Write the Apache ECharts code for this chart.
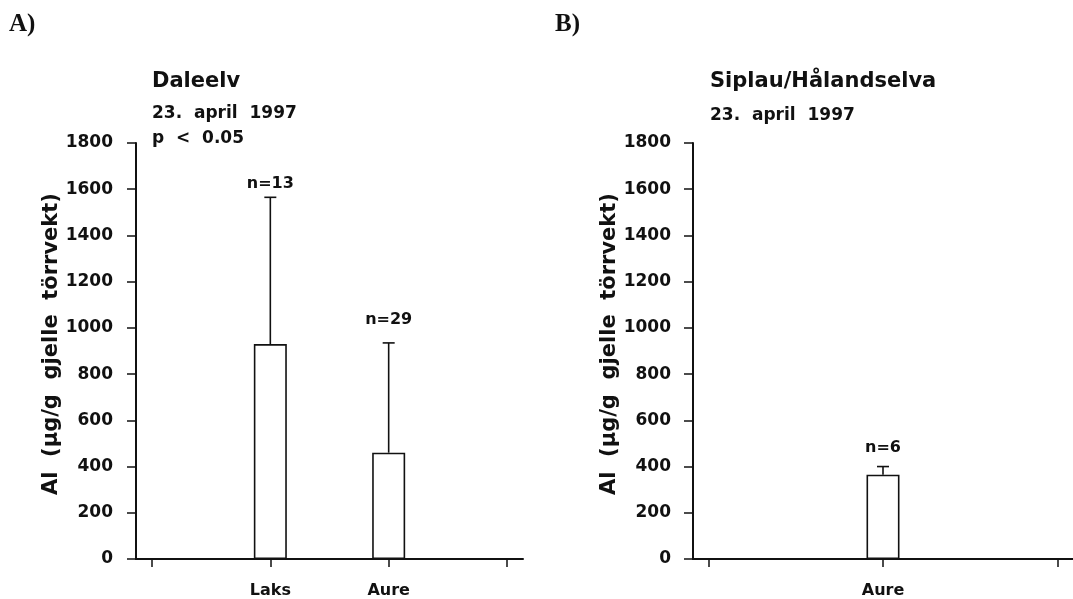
<!DOCTYPE html>
<html>
<head>
<meta charset="utf-8">
<title>Al i gjeller</title>
<script src="https://cdn.jsdelivr.net/npm/echarts@6/dist/echarts.min.js"></script>
<style>
  html, body { margin: 0; padding: 0; background: #fff; }
  #chart { width: 1073px; height: 599px; }
</style>
</head>
<body>
<div id="chart"></div>
<script>
// data
const catsA = ['Laks', 'Aure'];
const meanA = [930, 460];
const errTopA = [1565, 935];
const nA = [13, 29];

const catsB = ['Aure'];
const meanB = [365];
const errTopB = [400];
const nB = [6];

const yTicks = [0, 200, 400, 600, 800, 1000, 1200, 1400, 1600, 1800];
const yName = 'Al  (µg/g  gjelle  törrvekt)';

const FONT = 'DejaVu Sans';
const INK = '#111';

const chart = echarts.init(document.getElementById('chart'));

// category i sits at x = i + 1, ends of the axis are 0 and n + 1
const barData = (means) => means.map((v, i) => [i + 1, v]);
const errData = (means, tops, ns) => means.map((v, i) => [i + 1, v, tops[i], ns[i]]);

// per-item gap between cap and "n=" text (as in the figure)
const nGapA = [13, 23];
const nGapB = [19];

const errRender = (gaps) => (params, api) => {
  const x = api.value(0);
  const lo = api.coord([x, api.value(1)]);
  const hi = api.coord([x, api.value(2)]);
  const cap = 6;
  return {
    type: 'group',
    children: [
      { type: 'line', shape: { x1: lo[0], y1: lo[1], x2: hi[0], y2: hi[1] },
        style: { stroke: INK, lineWidth: 1.6 } },
      { type: 'line', shape: { x1: hi[0] - cap, y1: hi[1], x2: hi[0] + cap, y2: hi[1] },
        style: { stroke: INK, lineWidth: 1.6 } },
      { type: 'text', x: hi[0], y: hi[1] - gaps[params.dataIndex],
        style: { text: 'n=' + api.value(3), fill: INK, font: 'bold 16px ' + FONT,
                 align: 'center', verticalAlign: 'middle' } }
    ]
  };
};

const yAxisBase = (gridIndex, nameGap, labelMargin) => ({
  gridIndex,
  type: 'value',
  min: yTicks[0],
  max: yTicks[yTicks.length - 1],
  interval: 200,
  name: yName,
  nameLocation: 'middle',
  nameGap,
  nameTextStyle: { fontFamily: FONT, fontWeight: 'bold', fontSize: 21, color: INK,
                   padding: [0, 0, 0, 14] },
  axisLine: { show: true, onZero: false, lineStyle: { color: INK, width: 2 } },
  axisTick: { show: true, length: 9, lineStyle: { color: INK, width: 1.5 } },
  axisLabel: { margin: labelMargin, fontFamily: FONT, fontWeight: 'bold', fontSize: 17, color: INK,
               formatter: (v) => String(v) },
  splitLine: { show: false }
});

const xAxisBase = (gridIndex, cats, pad) => ({
  gridIndex,
  type: 'value',
  min: -pad,
  max: cats.length + 1 + pad,
  axisLine: { show: true, onZero: false, lineStyle: { color: INK, width: 2 } },
  axisTick: { show: true, length: 8, lineStyle: { color: INK, width: 1.5 },
              customValues: Array.from({ length: cats.length + 2 }, (_, i) => i) },
  axisLabel: { margin: 24, fontFamily: FONT, fontWeight: 'bold', fontSize: 16, color: INK,
               customValues: cats.map((_, i) => i + 1),
               formatter: (v) => cats[Math.round(v) - 1] || '' },
  splitLine: { show: false }
});

const titleLine = (text, left, top, size, weight, family) => ({
  text, left, top, padding: 0,
  textStyle: { fontFamily: family || FONT, fontSize: size, fontWeight: weight, color: INK }
});

chart.setOption({
  animation: false,
  backgroundColor: '#fff',
  title: [
    titleLine('A)', 9, 12, 25, 'bold', 'Liberation Serif'),
    titleLine('B)', 555, 12, 25, 'bold', 'Liberation Serif'),
    titleLine('Daleelv', 152, 71, 21, 'bold'),
    titleLine('23.  april  1997', 152, 105, 17, 'bold'),
    titleLine('p  <  0.05', 152, 130, 17, 'bold'),
    titleLine('Siplau/Hålandselva', 710, 71, 21, 'bold'),
    titleLine('23.  april  1997', 710, 107, 17, 'bold')
  ],
  grid: [
    { left: 136, top: 143, width: 387, height: 416 },
    { left: 693, top: 143, width: 389, height: 417 }
  ],
  xAxis: [
    xAxisBase(0, catsA, 0.135),
    xAxisBase(1, catsB, 0.09)
  ],
  yAxis: [
    yAxisBase(0, 73, 23),
    yAxisBase(1, 67, 22)
  ],
  series: [
    {
      type: 'bar', xAxisIndex: 0, yAxisIndex: 0,
      data: barData(meanA), barWidth: 33,
      itemStyle: { color: '#fff', borderColor: INK, borderWidth: 1.6 }
    },
    {
      type: 'custom', xAxisIndex: 0, yAxisIndex: 0, z: 5,
      data: errData(meanA, errTopA, nA),
      renderItem: errRender(nGapA)
    },
    {
      type: 'bar', xAxisIndex: 1, yAxisIndex: 1,
      data: barData(meanB), barWidth: 33,
      itemStyle: { color: '#fff', borderColor: INK, borderWidth: 1.6 }
    },
    {
      type: 'custom', xAxisIndex: 1, yAxisIndex: 1, z: 5,
      data: errData(meanB, errTopB, nB),
      renderItem: errRender(nGapB)
    }
  ]
});
</script>
</body>
</html>
